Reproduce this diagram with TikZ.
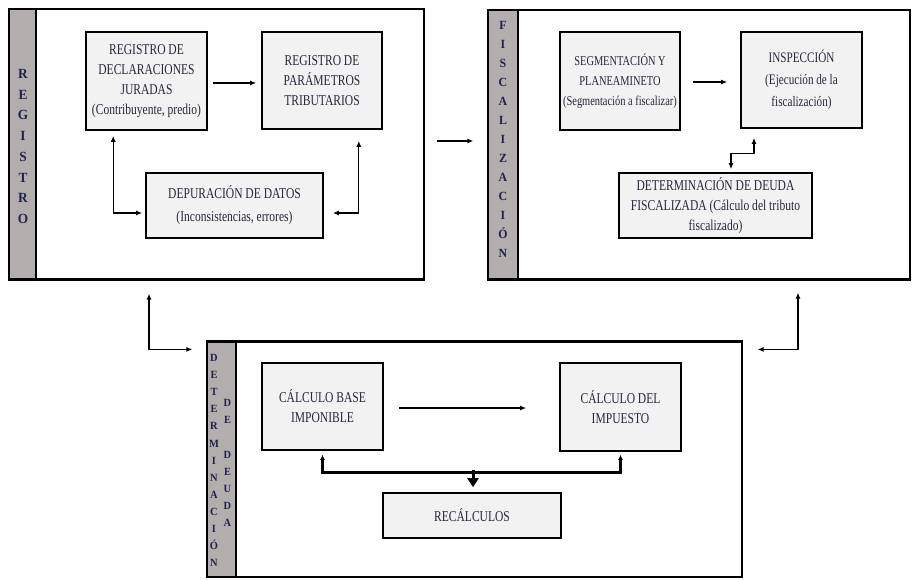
\documentclass[tikz,border=0pt]{standalone}
\usepackage{fontspec}
\setmainfont[FakeStretch=0.77]{Liberation Serif}
\newfontfamily\sidefont[FakeStretch=0.95,UprightFont=* Bold]{Liberation Serif}
\usetikzlibrary{arrows.meta,calc}
\definecolor{stripc}{RGB}{178,174,174}
\definecolor{boxfill}{RGB}{242,242,242}
\definecolor{txt}{RGB}{40,38,58}
\definecolor{sidetxt}{RGB}{30,36,70}
\tikzset{
  procbox/.style={draw=black, line width=1.6pt, fill=boxfill, align=center, text=txt,
    font=\fontsize{15}{20}\selectfont, inner sep=2pt},
  frame/.style={draw=black, line width=1.2pt, inner sep=0pt},
  stripbox/.style={fill=stripc, draw=black, line width=1.2pt, inner sep=0pt, anchor=north west},
  arr/.style={line width=1.2pt, -{Latex[length=6pt,width=5pt]}},
  darr/.style={line width=1.2pt, {Latex[length=6pt,width=5pt]}-{Latex[length=6pt,width=5pt]}},
  tline/.style={line width=3pt, {Latex[length=5pt,width=5pt]}-{Latex[length=5pt,width=5pt]}},
  sidelab/.style={align=center, text=sidetxt, inner sep=0pt},
}
\begin{document}
\begin{tikzpicture}[x=1pt,y=-1pt]
\useasboundingbox (0,0) rectangle (912,579);

% ---------- outer frames ----------
\node[frame, minimum width=415pt, minimum height=270pt] (reg) at (216.5,144) {};
\node[stripbox, minimum width=27pt, minimum height=270pt] (regstrip) at (reg.north west) {};
\draw[line width=2.2pt] (reg.south west) -- (reg.south east);

\node[frame, minimum width=422pt, minimum height=269pt] (fisc) at (699,144.5) {};
\node[stripbox, minimum width=30pt, minimum height=269pt] (fiscstrip) at (fisc.north west) {};
\draw[line width=2.2pt] (fisc.south west) -- (fisc.south east);

\node[frame, minimum width=535pt, minimum height=235pt] (det) at (474.5,459.5) {};
\node[stripbox, minimum width=29pt, minimum height=235pt] (detstrip) at (det.north west) {};
\draw[line width=2pt] (det.north west) -- (det.north east);

% ---------- side labels ----------
\node[sidelab, font=\sidefont\fontsize{14}{20.7}\selectfont] (lreg) at (23,146.5)
  {R\\E\\G\\I\\S\\T\\R\\O};
\node[sidelab, font=\sidefont\fontsize{12.5}{19}\selectfont] (lfisc) at (503,139)
  {F\\I\\S\\C\\A\\L\\I\\Z\\A\\C\\I\\Ó\\N};
\node[sidelab, font=\sidefont\fontsize{11}{17.1}\selectfont] (ldet1) at (214,460.5)
  {D\\E\\T\\E\\R\\M\\I\\N\\A\\C\\I\\Ó\\N};
\node[sidelab, font=\sidefont\fontsize{11}{17.1}\selectfont] (ldet2) at (227.5,411)
  {D\\E};
\node[sidelab, font=\sidefont\fontsize{11}{17.1}\selectfont] (ldet3) at (227.5,489)
  {D\\E\\U\\D\\A};

% ---------- REGISTRO ----------
\node[procbox, minimum width=121pt, minimum height=98pt] (decl) at (146.5,81)
  {REGISTRO DE\\DECLARACIONES\\JURADAS\\(Contribuyente, predio)};
\node[procbox, minimum width=120pt, minimum height=97pt] (param) at (322,80.5)
  {REGISTRO DE\\PARÁMETROS\\TRIBUTARIOS};
\node[procbox, minimum width=177pt, minimum height=65pt, font=\fontsize{15}{23}\selectfont] (dep) at (234.5,205.5)
  {DEPURACIÓN DE DATOS\\(Inconsistencias, errores)};

\draw[arr] ([xshift=5pt,yshift=-2pt]decl.east) -- ([xshift=-5pt,yshift=-2.5pt]param.west);
\draw[darr] ([xshift=28pt,yshift=-5pt]decl.south west) |- ([xshift=-3pt,yshift=-7.5pt]dep.west);
\draw[darr] ([xshift=-24pt,yshift=-11pt]param.south east) |- ([xshift=9pt,yshift=-7.5pt]dep.east);

% ---------- FISCALIZACIÓN ----------
\node[procbox, minimum width=120pt, minimum height=98pt, font=\fontsize{13.5}{20}\selectfont] (seg) at (620,81)
  {SEGMENTACIÓN Y\\PLANEAMINETO\\(Segmentación a fiscalizar)};
\node[procbox, minimum width=121pt, minimum height=96pt, font=\fontsize{14.5}{22}\selectfont] (insp) at (801.5,80)
  {INSPECCIÓN\\(Ejecución de la\\fiscalización)};
\node[procbox, minimum width=193pt, minimum height=65pt, font=\fontsize{15}{20}\selectfont] (detf) at (715.5,205.5)
  {DETERMINACIÓN DE DEUDA\\FISCALIZADA (Cálculo del tributo\\fiscalizado)};

\draw[arr] ([xshift=12pt,yshift=-1pt]seg.east) -- ([xshift=-13pt,yshift=-2pt]insp.west);
\draw[darr] ([xshift=-47.5pt,yshift=-9pt]insp.south) -- ++(0,16) -| ([xshift=15.5pt,yshift=3pt]detf.north);

% ---------- DETERMINACIÓN DE DEUDA ----------
\node[procbox, minimum width=121pt, minimum height=87pt] (cb) at (322.5,406.5)
  {CÁLCULO BASE\\IMPONIBLE};
\node[procbox, minimum width=121pt, minimum height=88pt] (ci) at (620.5,407)
  {CÁLCULO DEL\\IMPUESTO};
\node[procbox, minimum width=178pt, minimum height=45pt] (rec) at (472,515.5)
  {RECÁLCULOS};

\draw[arr] ([xshift=15pt,yshift=-1.5pt]cb.east) -- ([xshift=-33pt,yshift=-1pt]ci.west);
\draw[tline] ([yshift=-4pt]cb.south) -- ++(0,18) -| ([yshift=-3pt]ci.south);
\draw[line width=3pt, -{Triangle[length=9pt,width=11pt]}] ([xshift=1pt,yshift=22pt]rec.north) -- ([xshift=1pt,yshift=5pt]rec.north);

% ---------- between sections ----------
\draw[arr] ([xshift=12pt,yshift=3pt]reg.east) -- ([xshift=-14pt,yshift=3.5pt]fisc.west);
\draw[darr] ([xshift=-67.5pt,yshift=-14pt]reg.south) |- ([xshift=-14pt,yshift=-8pt]det.north west);
\draw[darr] ([xshift=99pt,yshift=-13pt]fisc.south) |- ([xshift=15pt,yshift=-8pt]det.north east);
\end{tikzpicture}
\end{document}
